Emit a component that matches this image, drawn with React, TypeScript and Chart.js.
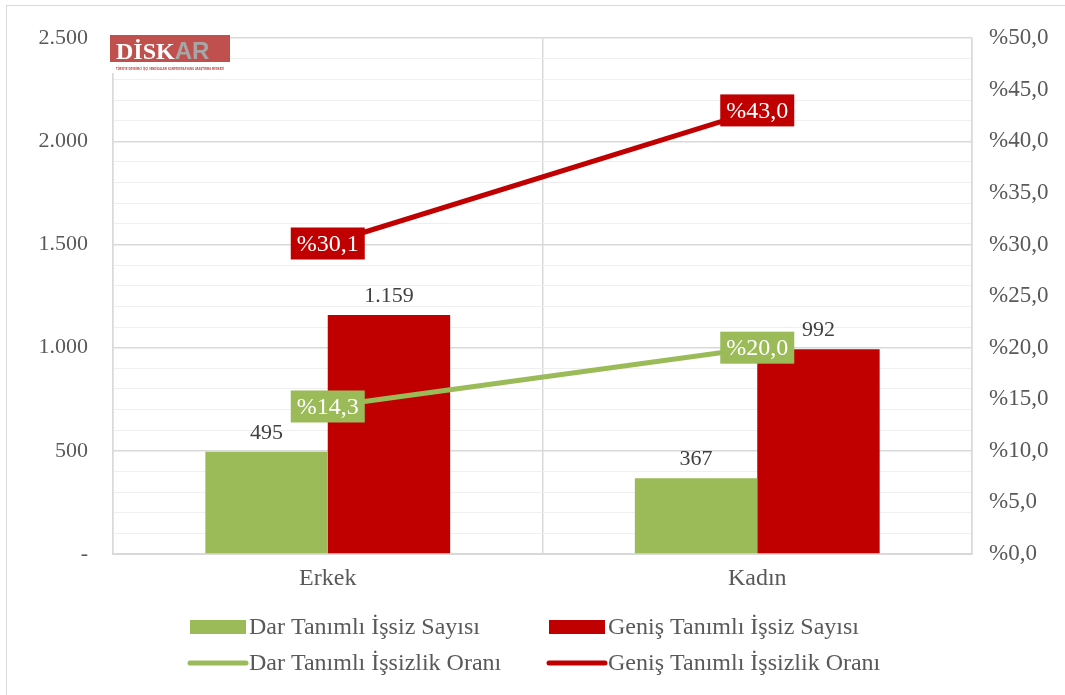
import React, { useEffect, useRef } from "react";
import { Chart, registerables } from "chart.js";

Chart.register(...registerables);

const categories = ["Erkek", "Kadın"];
const darSayisi = [495, 367];
const genisSayisi = [1159, 992];
const darOrani = [14.3, 20.0];
const genisOrani = [30.1, 43.0];
const seriesNames = [
  "Dar Tanımlı İşsiz Sayısı",
  "Geniş Tanımlı İşsiz Sayısı",
  "Dar Tanımlı İşsizlik Oranı",
  "Geniş Tanımlı İşsizlik Oranı",
];

const GREEN = "#9BBB59";
const RED = "#C00000";
const TEXT = "#595959";
const FONT = "'Liberation Serif', 'DejaVu Serif', serif";

const fmtCount = (v: number) =>
  v === 0 ? "-" : Math.round(v).toString().replace(/\B(?=(\d{3})+(?!\d))/g, ".");
const fmtPct = (v: number) => "%" + v.toFixed(1).replace(".", ",");

const labelsPlugin = {
  id: "customLabels",
  afterDatasetsDraw(chart: any) {
    const ctx = chart.ctx;
    ctx.save();
    // bar labels
    [0, 1].forEach((di) => {
      const meta = chart.getDatasetMeta(di);
      const data = chart.data.datasets[di].data as number[];
      meta.data.forEach((el: any, i: number) => {
        ctx.font = `22px ${FONT}`;
        ctx.fillStyle = "#404040";
        ctx.textAlign = "center";
        ctx.textBaseline = "bottom";
        ctx.fillText(fmtCount(data[i]), el.x, el.y - 8);
      });
    });
    // line labels
    [2, 3].forEach((di) => {
      const meta = chart.getDatasetMeta(di);
      const data = chart.data.datasets[di].data as number[];
      const color = chart.data.datasets[di].borderColor;
      meta.data.forEach((el: any, i: number) => {
        const txt = fmtPct(data[i]);
        ctx.font = `24px ${FONT}`;
        const w = ctx.measureText(txt).width + 12;
        const h = 32;
        ctx.fillStyle = color;
        ctx.fillRect(el.x - w / 2, el.y - h / 2, w, h);
        ctx.fillStyle = "#ffffff";
        ctx.textAlign = "center";
        ctx.textBaseline = "middle";
        ctx.fillText(txt, el.x, el.y + 1);
      });
    });
    ctx.restore();
  },
  afterDraw(chart: any) {
    const ctx = chart.ctx;
    ctx.save();
    // logo
    ctx.fillStyle = "#C0504D";
    ctx.fillRect(110, 35, 120, 27);
    ctx.fillStyle = "#ffffff";
    ctx.fillRect(110, 62, 120, 11);
    ctx.textBaseline = "alphabetic";
    ctx.textAlign = "left";
    ctx.font = `bold 24px 'Liberation Serif', serif`;
    ctx.fillStyle = "#ffffff";
    ctx.fillText("DİSK", 116, 59);
    const wd = ctx.measureText("DİSK").width;
    ctx.font = `bold 24px 'Liberation Sans', sans-serif`;
    ctx.fillStyle = "#A6A6A6";
    ctx.fillText("AR", 116 + wd, 59);
    ctx.font = `bold 4px 'DejaVu Sans', sans-serif`;
    ctx.fillStyle = "#C0504D";
    ctx.fillText("TÜRKİYE DEVRİMCİ İŞÇİ SENDİKALARI KONFEDERASYONU ARAŞTIRMA MERKEZİ", 116, 70, 108);

    // legend
    ctx.font = `24px ${FONT}`;
    ctx.textBaseline = "middle";
    ctx.textAlign = "left";
    const cols = [190, 549];
    const rows = [627, 663];
    const colors = [GREEN, RED];
    for (let k = 0; k < 4; k++) {
      const r = Math.floor(k / 2);
      const c = k % 2;
      const x = cols[c];
      const y = rows[r];
      if (r === 0) {
        ctx.fillStyle = colors[c];
        ctx.fillRect(x, y - 7, 56, 14);
      } else {
        ctx.strokeStyle = colors[c];
        ctx.lineWidth = 5;
        ctx.lineCap = "round";
        ctx.beginPath();
        ctx.moveTo(x, y);
        ctx.lineTo(x + 56, y);
        ctx.stroke();
      }
      ctx.fillStyle = TEXT;
      ctx.fillText(seriesNames[k], x + 59, y + 1);
    }
    ctx.restore();
  },
};

export default function App() {
  const ref = useRef<HTMLCanvasElement>(null);
  useEffect(() => {
    if (!ref.current) return;
    const chart = new Chart(ref.current, {
      type: "bar",
      data: {
        labels: categories,
        datasets: [
          {
            type: "bar",
            label: seriesNames[0],
            data: darSayisi,
            backgroundColor: GREEN,
            yAxisID: "y",
            order: 2,
            categoryPercentage: 0.57,
            barPercentage: 1,
          },
          {
            type: "bar",
            label: seriesNames[1],
            data: genisSayisi,
            backgroundColor: RED,
            yAxisID: "y",
            order: 2,
            categoryPercentage: 0.57,
            barPercentage: 1,
          },
          {
            type: "line",
            label: seriesNames[2],
            data: darOrani,
            borderColor: GREEN,
            backgroundColor: GREEN,
            borderWidth: 5,
            pointRadius: 0,
            yAxisID: "y1",
            order: 0,
          },
          {
            type: "line",
            label: seriesNames[3],
            data: genisOrani,
            borderColor: RED,
            backgroundColor: RED,
            borderWidth: 5,
            pointRadius: 0,
            yAxisID: "y1",
            order: 0,
          },
        ] as any,
      },
      options: {
        animation: false,
        responsive: false,
        maintainAspectRatio: false,
        layout: { padding: { top: 34, left: 0, right: 0, bottom: 0 } },
        plugins: { legend: { display: false }, tooltip: { enabled: false } },
        scales: {
          x: {
            offset: true,
            grid: { offset: true, color: "#d9d9d9", lineWidth: 1.5, drawTicks: false },
            border: { color: "#d9d9d9", width: 2 },
            ticks: { color: TEXT, font: { family: FONT, size: 24 }, padding: 10 },
            afterFit: (s: any) => {
              s.height = 141;
            },
          },
          y: {
            position: "left",
            min: 0,
            max: 2500,
            grid: {
              drawTicks: false,
              color: (c: any) => (c.tick && c.tick.value % 500 === 0 ? "#d9d9d9" : "#efefef"),
              lineWidth: (c: any) => (c.tick && c.tick.value % 500 === 0 ? 1.5 : 1),
            },
            border: { color: "#d9d9d9", width: 1.5 },
            ticks: {
              stepSize: 100,
              maxTicksLimit: 100,
              autoSkip: false,
              color: TEXT,
              font: { family: FONT, size: 22 },
              padding: 25,
              callback: (v: any) => (Number(v) % 500 === 0 ? fmtCount(Number(v)) : ""),
            },
            afterFit: (s: any) => {
              s.width = 113;
            },
          },
          y1: {
            position: "right",
            min: 0,
            max: 50,
            grid: { drawOnChartArea: false, drawTicks: false },
            border: { color: "#d9d9d9", width: 1.5 },
            ticks: {
              stepSize: 5,
              color: TEXT,
              font: { family: FONT, size: 23 },
              padding: 17,
              callback: (v: any) => fmtPct(Number(v)),
            },
            afterFit: (s: any) => {
              s.width = 93;
            },
          },
        },
      } as any,
      plugins: [labelsPlugin],
    });
    return () => chart.destroy();
  }, []);
  return (
    <div style={{ position: "fixed", left: 0, top: 0, width: 1065, height: 695, background: "#fff", overflow: "hidden" }}>
      <canvas ref={ref} width={1065} height={695} style={{ position: "absolute", left: 0, top: 0 }} />
      <div
        style={{
          position: "absolute",
          left: 6,
          top: 5,
          width: 1100,
          height: 720,
          border: "1.5px solid #d9d9d9",
          pointerEvents: "none",
        }}
      />
    </div>
  );
}
